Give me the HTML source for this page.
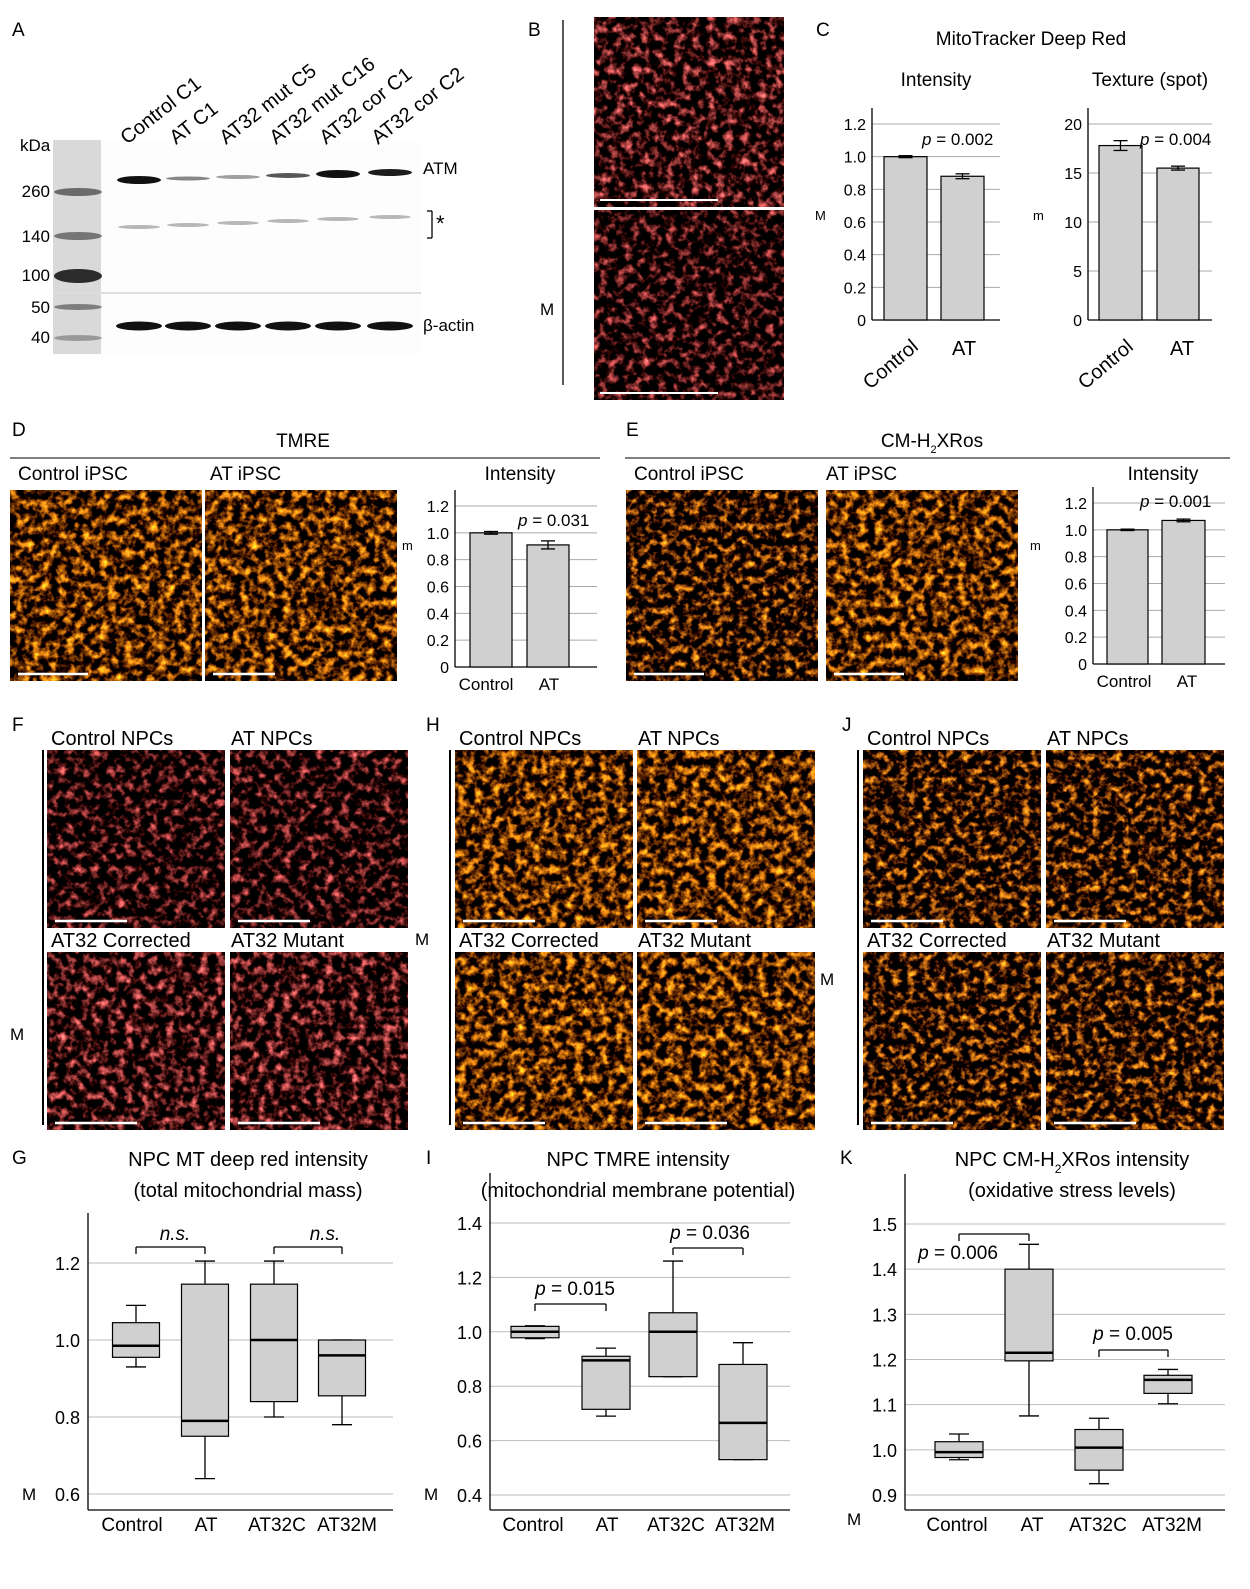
<!DOCTYPE html>
<html><head><meta charset="utf-8"><style>
html,body{margin:0;padding:0;background:#fff;}
svg{display:block;font-family:"Liberation Sans",sans-serif;}
</style></head><body>
<svg id="s" width="1250" height="1589" viewBox="0 0 1250 1589" xmlns="http://www.w3.org/2000/svg">
<defs>
<filter id="fr1" x="0" y="0" width="100%" height="100%" color-interpolation-filters="sRGB"><feTurbulence type="fractalNoise" baseFrequency="0.12" numOctaves="3" seed="3"/><feColorMatrix type="matrix" values="2.6 0 0 0 -1.1  1.3 0 0 0 -0.62  1.3 0 0 0 -0.62  0 0 0 0 1"/></filter>
<filter id="fr2" x="0" y="0" width="100%" height="100%" color-interpolation-filters="sRGB"><feTurbulence type="fractalNoise" baseFrequency="0.12" numOctaves="3" seed="7"/><feColorMatrix type="matrix" values="2.6 0 0 0 -1.18  1.2 0 0 0 -0.6  1.2 0 0 0 -0.6  0 0 0 0 1"/></filter>
<filter id="fo1" x="0" y="0" width="100%" height="100%" color-interpolation-filters="sRGB"><feTurbulence type="fractalNoise" baseFrequency="0.12" numOctaves="3" seed="5"/><feColorMatrix type="matrix" values="3.0 0 0 0 -1.15  2.0 0 0 0 -0.85  0.4 0 0 0 -0.2  0 0 0 0 1"/></filter>
<filter id="fo2" x="0" y="0" width="100%" height="100%" color-interpolation-filters="sRGB"><feTurbulence type="fractalNoise" baseFrequency="0.13" numOctaves="3" seed="11"/><feColorMatrix type="matrix" values="3.0 0 0 0 -1.3  2.0 0 0 0 -0.95  0.4 0 0 0 -0.2  0 0 0 0 1"/></filter>
</defs>
<g id="g"></g>
</svg>
<script>
var G=document.getElementById('g'),o='';
function T(x,y,t,sz,anc,extra){o+='<text x="'+x+'" y="'+y+'" font-size="'+(sz||19)+'" text-anchor="'+(anc||'start')+'" '+(extra||'')+'>'+t+'</text>';}
function L(x1,y1,x2,y2,c,w){o+='<line x1="'+x1+'" y1="'+y1+'" x2="'+x2+'" y2="'+y2+'" stroke="'+(c||'#000')+'" stroke-width="'+(w||1.3)+'"/>';}
function R(x,y,w,h,f,extra){o+='<rect x="'+x+'" y="'+y+'" width="'+w+'" height="'+h+'" fill="'+f+'" '+(extra||'')+'/>';}
function IMG(x,y,w,h,f,bar){R(x,y,w,h,'#000');o+='<rect x="'+x+'" y="'+y+'" width="'+w+'" height="'+h+'" filter="url(#'+f+')"/>';if(bar)L(x+8,y+h-7,x+bar,y+h-7,'#fff',2.5);}
// A
T(12,36,'A',19);
R(53,140,48,214,'#d9d9d9');R(101,140,320,214,'#fdfdfd');L(53,293,421,293,'#ddd',2);
[[78,192,4,0.6],[78,236,4,0.55],[78,276,7,0.95],[78,307,3,0.5],[78,338,3,0.35]].forEach(function(b){o+='<ellipse cx="'+b[0]+'" cy="'+b[1]+'" rx="24" ry="'+b[2]+'" fill="#222" opacity="'+b[3]+'"/>';});
var lx=[139,188,238,288,338,390],atm=[[4,1],[2,.5],[2,.4],[2.5,.7],[4,1],[3.5,.95]];
lx.forEach(function(x,i){o+='<ellipse cx="'+x+'" cy="'+(180-i*1.5)+'" rx="22" ry="'+atm[i][0]+'" fill="#111" opacity="'+atm[i][1]+'"/>';
o+='<ellipse cx="'+x+'" cy="'+(227-i*2)+'" rx="21" ry="2" fill="#333" opacity="0.35"/>';
o+='<ellipse cx="'+x+'" cy="326" rx="23" ry="4.5" fill="#111"/>';
T(x-12,145,['Control C1','AT C1','AT32 mut C5','AT32 mut C16','AT32 cor C1','AT32 cor C2'][i],20,'start','transform="rotate(-38 '+(x-12)+' 145)"');});
T(20,151,'kDa',17);T(50,197,'260',17,'end');T(50,242,'140',17,'end');T(50,281,'100',17,'end');T(50,313,'50',17,'end');T(50,343,'40',17,'end');
T(423,174,'ATM',17);T(423,331,'β-actin',17);L(427,211,432,211);L(432,211,432,238);L(427,238,432,238);T(436,231,'*',22);
// B
T(528,36,'B',19);L(563,20,563,385);
IMG(594,17,190,190,'fr1');L(600,200,718,200,'#fff',2);IMG(594,210,190,190,'fr2');L(600,393,718,393,'#fff',2);
T(540,315,'M',17);
function bar(ax,y0,ytop,vmax,ticks,bars,grid,ptxt,px,py,xr){
 var sc=(y0-ytop)/vmax;
 ticks.forEach(function(t){var y=y0-t[0]*sc;if(t[0]>0)L(ax,y,xr,y,'#aaa',1);T(ax-6,y+6,t[1],16,'end');});
 L(ax,ytop-16,ax,y0);L(ax,y0,xr,y0);
 bars.forEach(function(b){var y=y0-b[2]*sc;R(b[0],y,b[1],y0-y,'#d0d0d0','stroke="#000" stroke-width="1.2"');L(b[0]+b[1]/2,y-b[3]*sc,b[0]+b[1]/2,y+b[3]*sc);L(b[0]+b[1]/2-7,y-b[3]*sc,b[0]+b[1]/2+7,y-b[3]*sc);L(b[0]+b[1]/2-7,y+b[3]*sc,b[0]+b[1]/2+7,y+b[3]*sc);});
 T(px,py,'<tspan font-style="italic">p</tspan> = '+ptxt,17);
}
T(816,36,'C',19);T(1031,45,'MitoTracker Deep Red',19,'middle');T(936,86,'Intensity',19,'middle');T(1150,86,'Texture (spot)',19,'middle');
bar(872,320,124,1.2,[[0,'0'],[0.2,'0.2'],[0.4,'0.4'],[0.6,'0.6'],[0.8,'0.8'],[1.0,'1.0'],[1.2,'1.2']],[[884,43,1.0,0.006],[941,43,0.88,0.015]],0,'0.002',922,145,1000);
bar(1088,320,124,20,[[0,'0'],[5,'5'],[10,'10'],[15,'15'],[20,'20']],[[1099,43,17.8,0.5],[1157,42,15.5,0.2]],0,'0.004',1140,145,1212);
T(870,390,'Control',20,'start','transform="rotate(-40 870 390)"');T(952,355,'AT',20);T(1085,390,'Control',20,'start','transform="rotate(-40 1085 390)"');T(1170,355,'AT',20);
T(815,220,'M',13);T(1033,220,'m',13);
// D
T(12,436,'D',19);T(303,447,'TMRE',19,'middle');L(10,458,600,458,'#000',1);
T(18,480,'Control iPSC',19);T(210,480,'AT iPSC',19);T(520,480,'Intensity',19,'middle');
IMG(10,490,192,191,'fo1',78);IMG(205,490,192,191,'fo1',70);
bar(455,667,506,1.2,[[0,'0'],[0.2,'0.2'],[0.4,'0.4'],[0.6,'0.6'],[0.8,'0.8'],[1.0,'1.0'],[1.2,'1.2']],[[470,42,1.0,0.01],[527,42,0.91,0.03]],0,'0.031',518,526,597);
T(486,690,'Control',17,'middle');T(549,690,'AT',17,'middle');T(402,550,'m',13);
// E
T(626,436,'E',19);T(932,447,'CM-H<tspan baseline-shift="sub" font-size="11">2</tspan>XRos',19,'middle');L(625,458,1230,458,'#000',1);
T(634,480,'Control iPSC',19);T(826,480,'AT iPSC',19);T(1163,480,'Intensity',19,'middle');
IMG(626,490,192,191,'fo2',78);IMG(826,490,192,191,'fo1',78);
bar(1093,664,503,1.2,[[0,'0'],[0.2,'0.2'],[0.4,'0.4'],[0.6,'0.6'],[0.8,'0.8'],[1.0,'1.0'],[1.2,'1.2']],[[1107,41,1.0,0.005],[1162,43,1.07,0.01]],0,'0.001',1140,507,1225);
T(1124,687,'Control',17,'middle');T(1187,687,'AT',17,'middle');T(1030,550,'m',13);
function grid4(lab,lx,vx,x1,x2,f1,f2){T(lx,731,lab,19);L(vx,750,vx,1125,'#000',2);
 T(x1+4,745,'Control NPCs',20);T(x2+1,745,'AT NPCs',20);T(x1+4,947,'AT32 Corrected',20);T(x2+1,947,'AT32 Mutant',20);
 IMG(x1,750,178,178,f1,80);IMG(x2,750,178,178,f1,80);IMG(x1,952,178,178,f2,90);IMG(x2,952,178,178,f2,90);}
grid4('F',12,43,47,230,'fr2','fr1');grid4('H',426,450,455,637,'fo1','fo1');grid4('J',842,858,863,1046,'fo2','fo2');
T(10,1040,'M',17);T(415,945,'M',17);T(820,985,'M',17);
function box(ax,xr,y0,vtop,ytop,vbot,ybot,ticks,cx,data,w,br,tl,tx,title1,title2,lab){
 var sc=(ybot-ytop)/(vtop-vbot);function Y(v){return ytop+(vtop-v)*sc;}
 T(lab[0],lab[1],lab[2],19);T(tx,1166,title1,20,'middle');T(tx,1197,title2,20,'middle');
 ticks.forEach(function(t){L(ax,Y(t),xr,Y(t),'#bbb',1);T(ax-8,Y(t)+7,t.toFixed(1),18,'end');});
 L(ax,ytop-50,ax,y0);L(ax,y0,xr,y0);
 data.forEach(function(d,i){var x=cx[i];L(x,Y(d[0]),x,Y(d[4]));L(x-10,Y(d[0]),x+10,Y(d[0]));L(x-10,Y(d[4]),x+10,Y(d[4]));
  R(x-w/2,Y(d[3]),w,Y(d[1])-Y(d[3]),'#d0d0d0','stroke="#000" stroke-width="1.2"');L(x-w/2,Y(d[2]),x+w/2,Y(d[2]),'#000',2.5);
  T(x+(tl[i]||0),1531,['Control','AT','AT32C','AT32M'][i],19,'middle');});
 br.forEach(function(b){L(cx[b[0]],b[2]+7,cx[b[0]],b[2]);L(cx[b[0]],b[2],cx[b[1]],b[2]);L(cx[b[1]],b[2],cx[b[1]],b[2]+7);
  T(b[3],b[4],b[5],19,'middle');});
}
box(88,393,1510,1.2,1263,0.6,1494,[0.6,0.8,1.0,1.2],[136,205,274,342],
 [[0.93,0.955,0.985,1.045,1.09],[0.64,0.75,0.79,1.145,1.205],[0.80,0.84,1.0,1.145,1.205],[0.78,0.855,0.96,1.0,1.0]],47,
 [[0,1,1247,175,1240,'<tspan font-style="italic">n.s.</tspan>'],[2,3,1247,325,1240,'<tspan font-style="italic">n.s.</tspan>']],[-4,1,3,5],248,'NPC MT deep red intensity','(total mitochondrial mass)',[12,1164,'G']);
box(490,790,1510,1.4,1223,0.4,1495,[0.4,0.6,0.8,1.0,1.2,1.4],[535,606,673,743],
 [[0.975,0.978,1.0,1.02,1.022],[0.69,0.715,0.895,0.91,0.94],[0.835,0.835,1.0,1.07,1.26],[0.53,0.53,0.665,0.88,0.96]],48,
 [[0,1,1304,575,1295,'<tspan font-style="italic">p</tspan> = 0.015'],[2,3,1248,710,1239,'<tspan font-style="italic">p</tspan> = 0.036']],[-2,1,3,2],638,'NPC TMRE intensity','(mitochondrial membrane potential)',[426,1164,'I']);
box(905,1225,1510,1.5,1224,0.9,1495,[0.9,1.0,1.1,1.2,1.3,1.4,1.5],[959,1029,1099,1168],
 [[0.978,0.983,0.995,1.018,1.035],[1.075,1.197,1.215,1.40,1.455],[0.925,0.955,1.005,1.045,1.07],[1.102,1.125,1.155,1.165,1.178]],48,
 [[0,1,1234,958,1259,'<tspan font-style="italic">p</tspan> = 0.006'],[2,3,1350,1133,1340,'<tspan font-style="italic">p</tspan> = 0.005']],[-2,3,-1,4],1072,'NPC CM-H<tspan baseline-shift="sub" font-size="12">2</tspan>XRos intensity','(oxidative stress levels)',[840,1164,'K']);
T(22,1500,'M',17);T(424,1500,'M',17);T(847,1525,'M',17);
G.innerHTML=o;
</script>
</body></html>
